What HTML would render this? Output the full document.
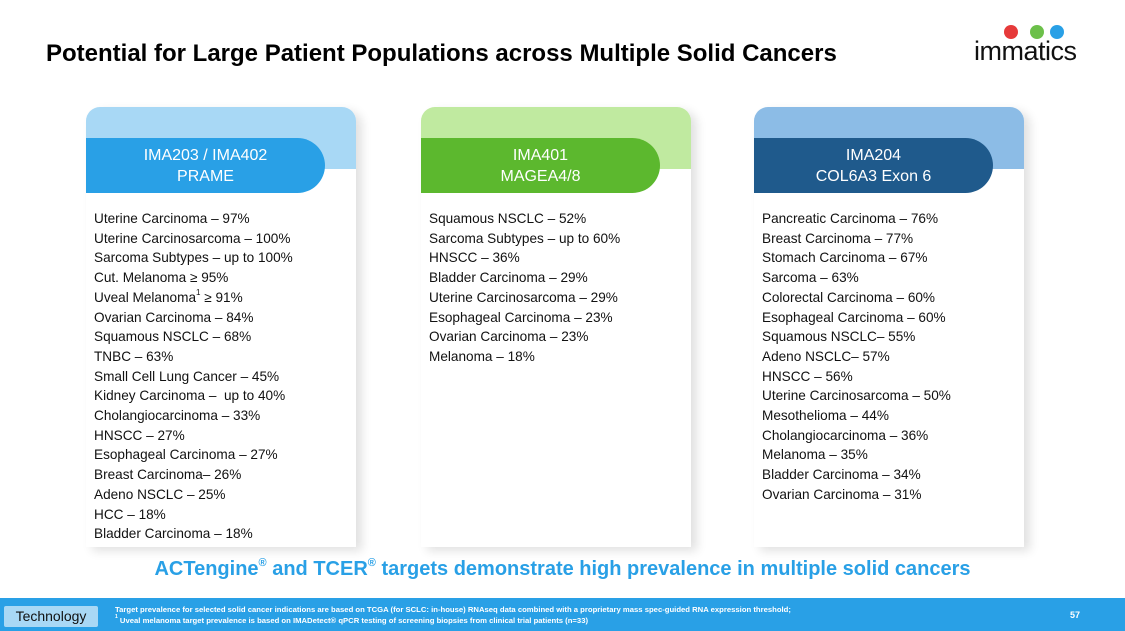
<!DOCTYPE html>
<html><head><meta charset="utf-8"><style>
body{margin:0;width:1125px;height:631px;position:relative;background:#fff;font-family:"Liberation Sans",sans-serif;overflow:hidden}
.t{position:absolute}
sup{line-height:0;position:relative;top:-1px}
.card{position:absolute;top:107px;width:270px;height:440px;border-radius:14px 14px 0 0;box-shadow:6px 4px 10px rgba(0,0,0,0.12);background:#fff}
.band{position:absolute;left:0;top:0;width:270px;height:62px;border-radius:14px 14px 0 0}
.pill{position:absolute;left:0;top:31px;width:239px;height:55px;border-radius:0 28px 28px 0;color:#fff;text-align:center;font-size:16px;line-height:21px;padding-top:7px;box-sizing:border-box}
.list{position:absolute;top:102px;left:8px;font-size:13.6px;line-height:19.7px;color:#111;white-space:nowrap}
</style></head><body>
<div class="t" style="left:46px;top:40px;font-size:24px;font-weight:bold;color:#000">Potential for Large Patient Populations across Multiple Solid Cancers</div>
<div class="t" style="left:974px;top:20px;width:120px;height:50px">
<div style="position:absolute;left:30px;top:5px;width:14px;height:14px;border-radius:50%;background:#e63a3a"></div>
<div style="position:absolute;left:56px;top:5px;width:14px;height:14px;border-radius:50%;background:#6cc04a"></div>
<div style="position:absolute;left:76px;top:5px;width:14px;height:14px;border-radius:50%;background:#29a0e6"></div>
<div style="position:absolute;left:0;top:16px;font-size:27px;color:#111;letter-spacing:-0.5px">immatics</div></div>

<div class="card" style="left:86px">
<div class="band" style="background:#a8d8f5"></div>
<div class="pill" style="background:#29a0e6">IMA203 / IMA402<br>PRAME</div>
<div class="list">Uterine Carcinoma – 97%<br>Uterine Carcinosarcoma – 100%<br>Sarcoma Subtypes – up to 100%<br>Cut. Melanoma ≥ 95%<br>Uveal Melanoma<sup style="font-size:8px">1</sup> ≥ 91%<br>Ovarian Carcinoma – 84%<br>Squamous NSCLC – 68%<br>TNBC – 63%<br>Small Cell Lung Cancer – 45%<br>Kidney Carcinoma –&nbsp; up to 40%<br>Cholangiocarcinoma – 33%<br>HNSCC – 27%<br>Esophageal Carcinoma – 27%<br>Breast Carcinoma– 26%<br>Adeno NSCLC – 25%<br>HCC – 18%<br>Bladder Carcinoma – 18%</div></div>

<div class="card" style="left:421px">
<div class="band" style="background:#c0eaa0"></div>
<div class="pill" style="background:#5cb82e">IMA401<br>MAGEA4/8</div>
<div class="list">Squamous NSCLC – 52%<br>Sarcoma Subtypes – up to 60%<br>HNSCC – 36%<br>Bladder Carcinoma – 29%<br>Uterine Carcinosarcoma – 29%<br>Esophageal Carcinoma – 23%<br>Ovarian Carcinoma – 23%<br>Melanoma – 18%</div></div>

<div class="card" style="left:754px">
<div class="band" style="background:#8cbce6"></div>
<div class="pill" style="background:#1f5a8c">IMA204<br>COL6A3 Exon 6</div>
<div class="list">Pancreatic Carcinoma – 76%<br>Breast Carcinoma – 77%<br>Stomach Carcinoma – 67%<br>Sarcoma – 63%<br>Colorectal Carcinoma – 60%<br>Esophageal Carcinoma – 60%<br>Squamous NSCLC– 55%<br>Adeno NSCLC– 57%<br>HNSCC – 56%<br>Uterine Carcinosarcoma – 50%<br>Mesothelioma – 44%<br>Cholangiocarcinoma – 36%<br>Melanoma – 35%<br>Bladder Carcinoma – 34%<br>Ovarian Carcinoma – 31%</div></div>

<div class="t" style="left:0;width:1125px;top:558px;text-align:center;font-size:20px;font-weight:bold;color:#29a0e6">ACTengine<sup style="font-size:11px">®</sup> and TCER<sup style="font-size:11px">®</sup> targets demonstrate high prevalence in multiple solid cancers</div>
<div class="t" style="left:0;top:598px;width:1125px;height:33px;background:#29a0e6"></div>
<div class="t" style="left:4px;top:606px;width:94px;height:21px;background:#a8d8f5;border-radius:2px;font-size:14px;line-height:21px;text-align:center;color:#111">Technology</div>
<div class="t" style="left:115px;top:604px;font-size:7.7px;line-height:11px;color:#fff;font-weight:bold;white-space:nowrap">Target prevalence for selected solid cancer indications are based on TCGA (for SCLC: in-house) RNAseq data combined with a proprietary mass spec-guided RNA expression threshold;<br><sup style="font-size:5px">1</sup> Uveal melanoma target prevalence is based on IMADetect® qPCR testing of screening biopsies from clinical trial patients (n=33)</div>
<div class="t" style="left:1070px;top:610px;font-size:9px;color:#fff;font-weight:bold">57</div>
</body></html>
